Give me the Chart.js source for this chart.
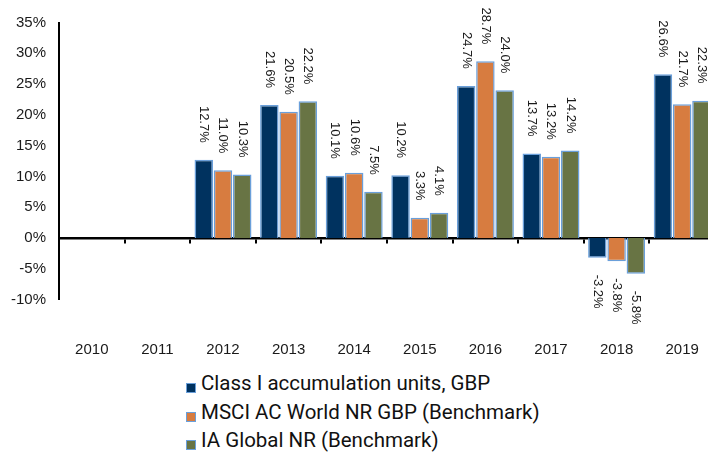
<!DOCTYPE html>
<html>
<head>
<meta charset="utf-8">
<script src="https://cdn.jsdelivr.net/npm/chart.js@4"></script>
<style>
    html, body { margin: 0; padding: 0; background: #fff; overflow: hidden; }
    #wrap { position: relative; width: 708px; height: 461px; overflow: hidden; }
    #chart { position: absolute; left: 0; top: 0; }
    #legend { position: absolute; left: 186px; top: 369px; font-family: Roboto, sans-serif; font-size: 20.5px; color: #111; }
    .item { height: 28.5px; line-height: 28.5px; white-space: nowrap; }
    .box { display: inline-block; width: 8px; height: 8px; border: 1.5px solid #6a9fda; margin-right: 5px; vertical-align: -3px; }
</style>
</head>
<body>
<div id="wrap">
    <canvas id="chart" width="715" height="365"></canvas>
    <div id="legend"></div>
</div>
<script>
// =============================================================================
// Data - calendar year returns (%)
// =============================================================================
const years = ['2010', '2011', '2012', '2013', '2014', '2015', '2016', '2017', '2018', '2019'];
const classI = [null, null, 12.7, 21.6, 10.1, 10.2, 24.7, 13.7, -3.2, 26.6];
const msciWorld = [null, null, 11.0, 20.5, 10.6, 3.3, 28.7, 13.2, -3.8, 21.7];
const iaGlobal = [null, null, 10.3, 22.2, 7.5, 4.1, 24.0, 14.2, -5.8, 22.3];
const yTicks = [-10, -5, 0, 5, 10, 15, 20, 25, 30, 35];

const series = [
    { label: 'Class I accumulation units, GBP', data: classI, color: '#00325f' },
    { label: 'MSCI AC World NR GBP (Benchmark)', data: msciWorld, color: '#d77c40' },
    { label: 'IA Global NR (Benchmark)', data: iaGlobal, color: '#687444' }
];

const edgeBlue = '#6a9fda';
const axisFont = { family: "'Liberation Sans', Arial, sans-serif", size: 15 };

// rotated value labels, just past the end of each bar
const barLabels = {
    id: 'barLabels',
    afterDatasetsDraw(chart) {
        const ctx = chart.ctx;
        ctx.save();
        ctx.font = "13px 'Liberation Sans', Arial, sans-serif";
        ctx.fillStyle = '#1a1a1a';
        ctx.textBaseline = 'middle';
        chart.data.datasets.forEach((ds, i) => {
            chart.getDatasetMeta(i).data.forEach((bar, j) => {
                const v = ds.data[j];
                if (v === null) return;
                ctx.save();
                ctx.translate(bar.x, v >= 0 ? bar.y - 17 : bar.y + 17);
                ctx.rotate(Math.PI / 2);
                ctx.textAlign = v >= 0 ? 'right' : 'left';
                ctx.fillText(v.toFixed(1) + '%', 0, 0);
                ctx.restore();
            });
        });
        ctx.restore();
    }
};

new Chart(document.getElementById('chart'), {
    type: 'bar',
    data: {
        labels: years,
        datasets: series.map(s => ({
            label: s.label,
            data: s.data,
            backgroundColor: s.color,
            borderColor: edgeBlue,
            borderWidth: 1.5,
            categoryPercentage: 0.88,
            barPercentage: 0.96
        }))
    },
    options: {
        responsive: false,
        animation: false,
        layout: { padding: { top: 22.5, right: 0, bottom: 0, left: 0 } },
        plugins: {
            legend: { display: false },
            tooltip: { enabled: false }
        },
        scales: {
            x: {
                position: 'bottom',
                // invisible long tick marks push the year labels well below the plot
                grid: { display: true, drawOnChartArea: false, drawTicks: true, tickLength: 39, color: 'rgba(0,0,0,0)' },
                border: { display: false },
                ticks: { color: '#1a1a1a', font: axisFont, padding: 2, maxRotation: 0, autoSkip: false },
                afterFit: scale => { scale.height = 65.5; }
            },
            x2: {
                type: 'category',
                axis: 'x',
                position: { y: 0 },
                offset: true,
                grid: { offset: true, drawOnChartArea: false, drawTicks: true, tickLength: 4, color: '#000', lineWidth: 2 },
                border: { display: true, color: '#000', width: 2.5 },
                ticks: { display: false }
            },
            y: {
                min: -10,
                max: 35,
                afterBuildTicks: scale => { scale.ticks = yTicks.map(v => ({ value: v })); },
                grid: { display: false, drawTicks: false },
                border: { display: true, color: '#000', width: 2 },
                ticks: { color: '#1a1a1a', font: axisFont, padding: 13, callback: v => v + '%' },
                afterFit: scale => { scale.width = 59; }
            }
        }
    },
    plugins: [barLabels]
});

// legend stacked under the chart
const legendEl = document.getElementById('legend');
series.forEach(s => {
    const row = document.createElement('div');
    row.className = 'item';
    const box = document.createElement('span');
    box.className = 'box';
    box.style.background = s.color;
    row.appendChild(box);
    row.appendChild(document.createTextNode(s.label));
    legendEl.appendChild(row);
});
</script>
</body>
</html>
